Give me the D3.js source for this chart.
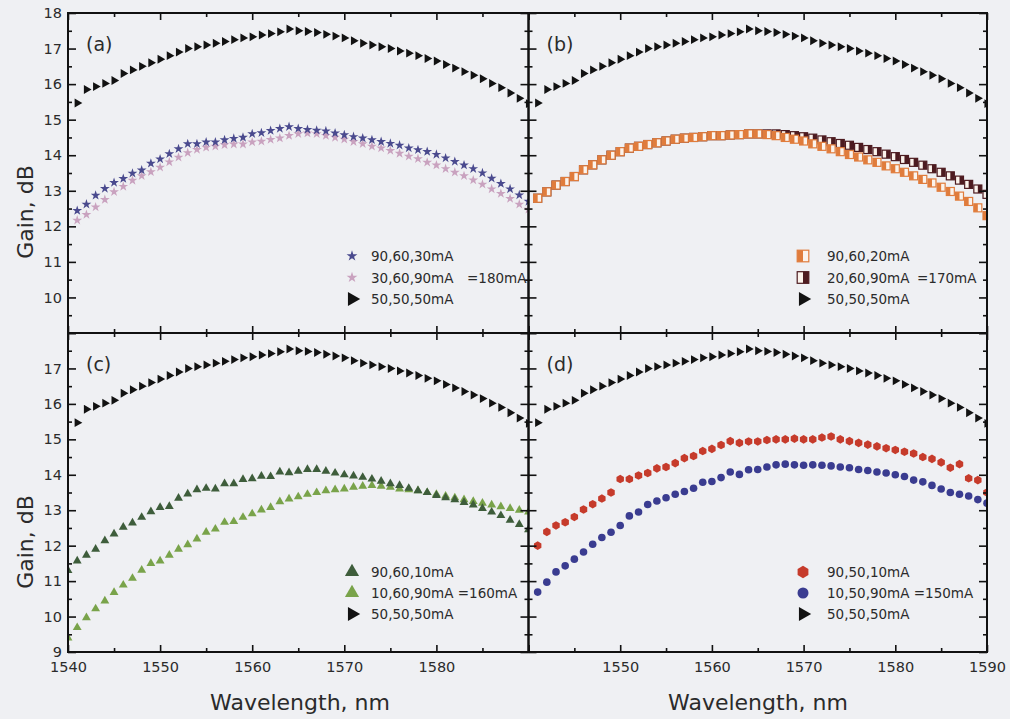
<!DOCTYPE html>
<html>
<head>
<meta charset="utf-8">
<script src="https://cdn.jsdelivr.net/npm/d3@7"></script>
<style>
  html, body { margin: 0; padding: 0; background: #eff0f3; }
  svg { display: block; font-family: "DejaVu Sans", sans-serif; }
</style>
</head>
<body>
<svg id="chart" width="1010" height="719"></svg>
<script>
// ---- wavelength grids (nm) ----
const wl = d3.range(1541, 1591);          // 1541 … 1590
const wlGreen = d3.range(1540, 1591);     // 1540 … 1590

// ---- reference pump setting 50,50,50 mA (same in every panel) ----
const gain505050 = [15.47, 15.85, 15.93, 16.02, 16.1, 16.3, 16.4, 16.5, 16.6, 16.7,
  16.8, 16.9, 17.0, 17.05, 17.1, 17.15, 17.2, 17.25, 17.3, 17.33,
  17.38, 17.42, 17.47, 17.55, 17.5, 17.48, 17.45, 17.4, 17.35, 17.3,
  17.22, 17.15, 17.1, 17.05, 17.0, 16.93, 16.87, 16.8, 16.72, 16.65,
  16.55, 16.45, 16.35, 16.25, 16.15, 16.02, 15.9, 15.75, 15.6, 15.45];

// ---- (a) total 180 mA ----
const gain906030 = [12.44, 12.62, 12.87, 13.06, 13.23, 13.34, 13.49, 13.58, 13.77, 13.89,
  14.04, 14.18, 14.32, 14.32, 14.37, 14.37, 14.43, 14.47, 14.5, 14.6,
  14.63, 14.69, 14.75, 14.8, 14.75, 14.72, 14.7, 14.68, 14.62, 14.57,
  14.52, 14.48, 14.43, 14.38, 14.33, 14.28, 14.2, 14.15, 14.1, 14.02,
  13.92, 13.82, 13.72, 13.62, 13.5, 13.35, 13.2, 13.05, 12.88, 12.7];
const gain306090 = [12.17, 12.33, 12.54, 12.75, 12.97, 13.12, 13.29, 13.42, 13.53, 13.66,
  13.81, 13.94, 14.07, 14.16, 14.22, 14.25, 14.29, 14.31, 14.31, 14.37,
  14.39, 14.44, 14.48, 14.55, 14.6, 14.62, 14.6, 14.55, 14.5, 14.45,
  14.38, 14.32, 14.25, 14.2, 14.13, 14.05, 13.97, 13.9, 13.8, 13.72,
  13.62, 13.52, 13.42, 13.3, 13.18, 13.05, 12.92, 12.78, 12.62, 12.48];

// ---- (b) total 170 mA ----
const gain906020 = [12.79, 12.97, 13.16, 13.26, 13.4, 13.59, 13.73, 13.87, 14.0, 14.1,
  14.2, 14.25, 14.3, 14.35, 14.4, 14.45, 14.48, 14.5, 14.52, 14.55,
  14.55, 14.57, 14.58, 14.6, 14.6, 14.58, 14.55, 14.5, 14.45, 14.4,
  14.32, 14.25, 14.18, 14.1, 14.02, 13.95, 13.87, 13.8, 13.7, 13.62,
  13.52, 13.42, 13.32, 13.22, 13.1, 12.98, 12.85, 12.7, 12.52, 12.3];
const gain206090 = [12.79, 12.97, 13.16, 13.26, 13.4, 13.59, 13.73, 13.87, 14.0, 14.1,
  14.2, 14.25, 14.3, 14.35, 14.4, 14.45, 14.48, 14.5, 14.52, 14.55,
  14.55, 14.57, 14.58, 14.6, 14.6, 14.6, 14.6, 14.58, 14.55, 14.52,
  14.48, 14.43, 14.38, 14.33, 14.28, 14.22, 14.16, 14.1, 14.03, 13.96,
  13.88, 13.8, 13.72, 13.62, 13.52, 13.42, 13.3, 13.18, 13.05, 12.9];

// ---- (c) total 160 mA ----
const gain906010 = [11.3, 11.57, 11.73, 11.9, 12.14, 12.33, 12.52, 12.64, 12.8, 12.96, 13.08,
  13.11, 13.34, 13.46, 13.58, 13.62, 13.6, 13.75, 13.75, 13.87, 13.89,
  13.96, 13.95, 14.08, 14.06, 14.1, 14.15, 14.15, 14.1, 14.05, 14.0,
  13.97, 13.93, 13.88, 13.82, 13.75, 13.7, 13.62, 13.55, 13.5, 13.42,
  13.35, 13.3, 13.22, 13.15, 13.05, 12.95, 12.85, 12.72, 12.6, 12.45];
const gain106090 = [9.4, 9.69, 9.97, 10.22, 10.44, 10.68, 10.89, 11.08, 11.31, 11.5, 11.57,
  11.73, 11.9, 12.03, 12.19, 12.38, 12.47, 12.66, 12.68, 12.8, 12.9,
  13.01, 13.08, 13.24, 13.32, 13.38, 13.45, 13.5, 13.55, 13.58, 13.6,
  13.65, 13.68, 13.7, 13.68, 13.65, 13.6, 13.58, 13.55, 13.5, 13.45,
  13.4, 13.35, 13.3, 13.25, 13.2, 13.15, 13.1, 13.05, 13.0, 12.95];

// ---- (d) total 150 mA ----
const gain905010 = [12.0, 12.39, 12.57, 12.66, 12.81, 13.02, 13.17, 13.33, 13.5, 13.88,
  13.88, 13.98, 14.05, 14.18, 14.22, 14.33, 14.47, 14.53, 14.67, 14.73,
  14.84, 14.95, 14.9, 14.94, 14.94, 14.98, 15.0, 15.0, 15.02, 15.0,
  15.0, 15.05, 15.08, 15.0, 14.95, 14.9, 14.85, 14.8, 14.75, 14.7,
  14.65, 14.6, 14.5, 14.45, 14.35, 14.2, 14.3, 13.9, 13.85, 13.5];
const gain105090 = [10.69, 10.97, 11.26, 11.43, 11.62, 11.82, 12.04, 12.23, 12.38, 12.57,
  12.84, 12.95, 13.16, 13.26, 13.35, 13.45, 13.53, 13.62, 13.79, 13.81,
  13.92, 14.08, 14.01, 14.14, 14.15, 14.22, 14.28, 14.3, 14.28, 14.27,
  14.28, 14.27, 14.25, 14.22, 14.2, 14.15, 14.12, 14.08, 14.05, 14.0,
  13.95, 13.85, 13.8, 13.7, 13.6, 13.5, 13.45, 13.4, 13.3, 13.2];

// ---- axis ticks ----
const yTicksTop = [10, 11, 12, 13, 14, 15, 16, 17, 18];
const yTicksBottom = [9, 10, 11, 12, 13, 14, 15, 16, 17];
const xTicksLeft = [1540, 1550, 1560, 1570, 1580];
const xTicksRight = [1550, 1560, 1570, 1580, 1590];

// ---- series definitions per panel ----
const ref = { x: wl, y: gain505050, shape: "triR", color: "#121212", label: "50,50,50mA" };
const panels = [
  { id: "a", tag: "(a)", col: 0, row: 0, total: "=180mA", totalX: 467,
    series: [
      { x: wl, y: gain906030, shape: "star", color: "#4a4a8e", label: "90,60,30mA" },
      { x: wl, y: gain306090, shape: "star", color: "#c9a2bf", label: "30,60,90mA" },
      ref] },
  { id: "b", tag: "(b)", col: 1, row: 0, total: "=170mA", totalX: 917,
    series: [
      { x: wl, y: gain906020, shape: "sqL", color: "#e07c3c", label: "90,60,20mA" },
      { x: wl, y: gain206090, shape: "sqR", color: "#4d1b20", label: "20,60,90mA" },
      ref] },
  { id: "c", tag: "(c)", col: 0, row: 1, total: "=160mA", totalX: null,
    series: [
      { x: wlGreen, y: gain906010, shape: "triU", color: "#3e5d3b", label: "90,60,10mA" },
      { x: wlGreen, y: gain106090, shape: "triU", color: "#79a34a", label: "10,60,90mA" },
      ref] },
  { id: "d", tag: "(d)", col: 1, row: 1, total: "=150mA", totalX: null,
    series: [
      { x: wl, y: gain905010, shape: "hex", color: "#c63b2b", label: "90,50,10mA" },
      { x: wl, y: gain105090, shape: "circ", color: "#3a3c90", label: "10,50,90mA" },
      ref] }
];

// ---- layout ----
const colX = [[68, 528.5], [528.5, 987]];
const rowY = [[333, 13], [652, 333]];
const textColor = "#2b2b2b";

const svg = d3.select("#chart");
svg.append("rect").attr("width", 1010).attr("height", 719).attr("fill", "#eff0f3");

// marker path generators
function hexPath(r) {
  const pts = d3.range(6).map(i => {
    const a = Math.PI / 3 * i - Math.PI / 2;
    return [r * Math.cos(a), r * Math.sin(a)];
  });
  return "M" + pts.map(p => p.join(",")).join("L") + "Z";
}
function drawMarker(g, shape, color, cx, cy, k) {
  const m = g.append("g").attr("transform", `translate(${cx},${cy})`);
  if (shape === "triR") {
    m.append("path").attr("d", d3.symbol(d3.symbolTriangle, 34 * k * k)())
      .attr("transform", "rotate(90)").attr("fill", color);
  } else if (shape === "triU") {
    m.append("path").attr("d", d3.symbol(d3.symbolTriangle, 34 * k * k)())
      .attr("fill", color);
  } else if (shape === "star") {
    m.append("path").attr("d", d3.symbol(d3.symbolStar, 30 * k * k)()).attr("fill", color);
  } else if (shape === "circ") {
    m.append("circle").attr("r", 3.8 * k).attr("fill", color);
  } else if (shape === "hex") {
    m.append("path").attr("d", hexPath(4.3 * k)).attr("fill", color);
  } else if (shape === "sqL" || shape === "sqR") {
    const s = 8 * k;
    m.append("rect").attr("x", -s / 2).attr("y", -s / 2).attr("width", s).attr("height", s)
      .attr("fill", "#fbf3ec").attr("stroke", color).attr("stroke-width", 1.2);
    m.append("rect").attr("x", shape === "sqL" ? -s / 2 : 0).attr("y", -s / 2)
      .attr("width", s / 2).attr("height", s).attr("fill", color);
  }
}

panels.forEach(p => {
  const x = d3.scaleLinear().domain([1540, 1590]).range(colX[p.col]);
  const y = d3.scaleLinear().domain([9, 18]).range(rowY[p.row]);
  const [x0, x1] = x.range();
  const [yb, yt] = y.range();
  const g = svg.append("g");

  // clip area for the data points
  const clipId = "clip-" + p.id;
  svg.append("clipPath").attr("id", clipId).append("rect")
    .attr("x", x0).attr("y", yt).attr("width", x1 - x0).attr("height", yb - yt);

  const pts = g.append("g").attr("clip-path", `url(#${clipId})`);
  p.series.slice().reverse().forEach(s => {
    s.x.forEach((w, i) => drawMarker(pts, s.shape, s.color, x(w), y(s.y[i]), 1));
  });

  // inward ticks on all four sides, majors and minors
  const xMajor = d3.range(1540, 1591, 10), xMinor = d3.range(1545, 1590, 10);
  const yMajor = d3.range(9, 19, 1), yMinor = d3.range(9.5, 18, 1);
  const tickStyle = sel => {
    sel.select(".domain").remove();
    sel.selectAll("line").attr("stroke", "#111").attr("stroke-width", 1.6);
    sel.selectAll("text").attr("fill", textColor).attr("font-size", 14.5)
      .attr("font-family", '"DejaVu Sans", sans-serif');
  };
  const isBottomRow = p.row === 1, isLeftCol = p.col === 0;
  const xLabels = isLeftCol ? xTicksLeft : xTicksRight;
  const yLabels = p.row === 0 ? yTicksTop : yTicksBottom;

  g.append("g").attr("transform", `translate(0,${yb})`)
    .call(d3.axisBottom(x).tickValues(xMajor).tickSize(-7).tickPadding(10)
      .tickFormat(d => (isBottomRow && xLabels.includes(d)) ? d3.format("d")(d) : ""))
    .call(tickStyle);
  g.append("g").attr("transform", `translate(0,${yb})`)
    .call(d3.axisBottom(x).tickValues(xMinor).tickSize(-4).tickFormat(""))
    .call(tickStyle);
  g.append("g").attr("transform", `translate(0,${yt})`)
    .call(d3.axisTop(x).tickValues(xMajor).tickSize(-7).tickFormat(""))
    .call(tickStyle);
  g.append("g").attr("transform", `translate(0,${yt})`)
    .call(d3.axisTop(x).tickValues(xMinor).tickSize(-4).tickFormat(""))
    .call(tickStyle);
  g.append("g").attr("transform", `translate(${x0},0)`)
    .call(d3.axisLeft(y).tickValues(yMajor).tickSize(-8).tickPadding(6)
      .tickFormat(d => (isLeftCol && yLabels.includes(d)) ? d : ""))
    .call(tickStyle);
  g.append("g").attr("transform", `translate(${x0},0)`)
    .call(d3.axisLeft(y).tickValues(yMinor).tickSize(-4).tickFormat(""))
    .call(tickStyle);
  g.append("g").attr("transform", `translate(${x1},0)`)
    .call(d3.axisRight(y).tickValues(yMajor).tickSize(-8).tickFormat(""))
    .call(tickStyle);
  g.append("g").attr("transform", `translate(${x1},0)`)
    .call(d3.axisRight(y).tickValues(yMinor).tickSize(-4).tickFormat(""))
    .call(tickStyle);

  // frame
  g.append("rect").attr("x", x0).attr("y", yt).attr("width", x1 - x0).attr("height", yb - yt)
    .attr("fill", "none").attr("stroke", "#111").attr("stroke-width", 2);

  // panel tag
  g.append("text").attr("x", x0 + 18).attr("y", yt + 38).text(p.tag)
    .attr("font-size", 19).attr("fill", textColor);

  // legend
  const lx = p.col === 0 ? 352 : 803;
  const ly0 = p.row === 0 ? 256 : 572;
  const dy = p.row === 0 ? 21.5 : 21;
  const tx = p.col === 0 ? 371 : 827;
  p.series.forEach((s, i) => {
    const yy = ly0 + i * dy;
    const k = s.shape === "triR" || s.shape === "triU" ? 1.6 : (s.shape === "star" ? 1.1 : 1.45);
    drawMarker(g, s.shape, s.color, lx, yy, k);
    let txt = s.label;
    if (i === 1 && p.totalX === null) txt += " " + p.total;
    g.append("text").attr("x", tx).attr("y", yy + 5).text(txt)
      .attr("font-size", 13.5).attr("fill", textColor);
    if (i === 1 && p.totalX !== null) {
      g.append("text").attr("x", p.totalX).attr("y", yy + 5).text(p.total)
        .attr("font-size", 13.5).attr("fill", textColor);
    }
  });
});

// axis titles
[212, 542].forEach(cy => {
  svg.append("text").attr("transform", `translate(33,${cy}) rotate(-90)`)
    .attr("text-anchor", "middle").attr("font-size", 22).attr("fill", textColor)
    .text("Gain, dB");
});
[300, 758].forEach(cx => {
  svg.append("text").attr("x", cx).attr("y", 710).attr("text-anchor", "middle")
    .attr("font-size", 22).attr("fill", textColor).text("Wavelength, nm");
});
</script>
</body>
</html>
